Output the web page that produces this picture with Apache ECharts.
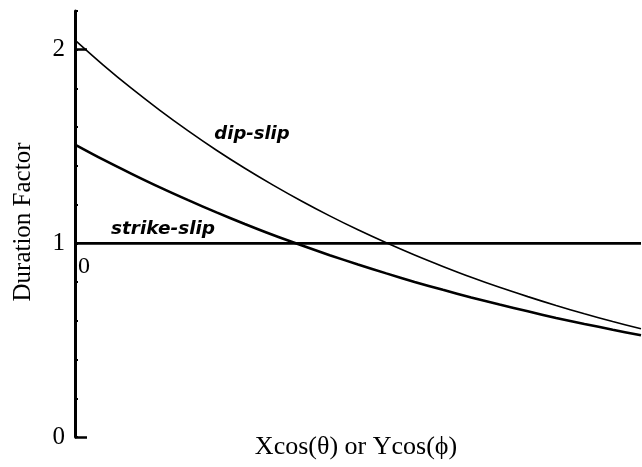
<!DOCTYPE html>
<html>
<head>
<meta charset="utf-8">
<script src="https://cdn.jsdelivr.net/npm/echarts@6/dist/echarts.min.js"></script>
<style>
  html, body { margin: 0; padding: 0; background: #fff; }
  #chart { width: 642px; height: 467px; }
</style>
</head>
<body>
<div id="chart"></div>
<script>
// Position along the fault, sampled every 0.05
const xPositions = [0, 0.05, 0.1, 0.15, 0.2, 0.25, 0.3, 0.35, 0.4, 0.45, 0.5,
                    0.55, 0.6, 0.65, 0.7, 0.75, 0.8, 0.85, 0.9, 0.95, 1.0];
// Duration factor, dip-slip rupture
const dipSlip = [2.050, 1.921, 1.800, 1.687, 1.581, 1.481, 1.388, 1.301, 1.219, 1.142, 1.070,
                 1.003, 0.940, 0.881, 0.825, 0.773, 0.725, 0.679, 0.636, 0.596, 0.559];
// Duration factor, second (heavier) curve
const heavyCurve = [1.510, 1.432, 1.359, 1.289, 1.223, 1.160, 1.100, 1.043, 0.990, 0.939, 0.891,
                    0.845, 0.801, 0.760, 0.721, 0.684, 0.649, 0.615, 0.584, 0.554, 0.525];
// Duration factor, strike-slip rupture (constant)
const strikeX = [0, 1];
const strikeSlip = [1, 1];
// Tick labels
const yTickLabels = [0, 1, 2];
const yLongTicks = [0, 2];
const xTickLabels = [0, 1];

const pairs = (xs, ys) => xs.map((x, i) => [x, ys[i]]);

const chart = echarts.init(document.getElementById('chart'), null, { renderer: 'canvas' });

const serif = '"Liberation Serif", "Times New Roman", serif';
const GRID_TOP = 11, GRID_BOTTOM = 30, H = 467;
const unit = (H - GRID_TOP - GRID_BOTTOM) / 2.2;

chart.setOption({
  animation: false,
  backgroundColor: '#fff',
  grid: { left: 75, right: 1, top: GRID_TOP, bottom: GRID_BOTTOM,
          containLabel: false, outerBoundsMode: 'none' },
  xAxis: {
    type: 'value', min: 0, max: 1,
    offset: -unit,
    axisLine: { show: false },
    axisTick: { show: false },
    splitLine: { show: false },
    axisLabel: {
      customValues: xTickLabels,
      align: 'left', padding: [0, 0, 0, 3], margin: 11,
      color: '#000', fontFamily: serif, fontSize: 24
    }
  },
  yAxis: [
    {
      type: 'value', min: 0, max: 2.2, interval: 0.2, position: 'left',
      axisLine: { show: true, lineStyle: { color: '#000', width: 3 } },
      axisTick: { show: true, inside: true, length: 3, lineStyle: { color: '#000', width: 2 } },
      splitLine: { show: false },
      axisLabel: {
        customValues: yTickLabels,
        margin: 10, color: '#000', fontFamily: serif, fontSize: 25
      }
    },
    {
      type: 'value', min: 0, max: 2.2, position: 'left',
      axisLine: { show: false },
      axisTick: { show: true, customValues: yLongTicks, inside: true, length: 12,
                  lineStyle: { color: '#000', width: 2.5 } },
      axisLabel: { show: false },
      splitLine: { show: false }
    }
  ],
  series: [
    {
      name: 'strike-slip', type: 'line', yAxisIndex: 0,
      data: pairs(strikeX, strikeSlip), showSymbol: false,
      lineStyle: { color: '#000', width: 2.6 }
    },
    {
      name: 'dip-slip', type: 'line', yAxisIndex: 0,
      data: pairs(xPositions, dipSlip), showSymbol: false, smooth: 0.3,
      lineStyle: { color: '#000', width: 1.6 }
    },
    {
      name: 'heavy', type: 'line', yAxisIndex: 0,
      data: pairs(xPositions, heavyCurve), showSymbol: false, smooth: 0.3,
      lineStyle: { color: '#000', width: 2.6 }
    }
  ],
  graphic: [
    {
      type: 'text', x: 23, y: 222, rotation: Math.PI / 2,
      style: { text: 'Duration Factor', font: '25px ' + serif, fill: '#000',
               align: 'center', verticalAlign: 'middle' }
    },
    {
      type: 'text', x: 356, y: 447,
      style: { text: 'Xcos(θ) or Ycos(ϕ)', font: '26px ' + serif, fill: '#000',
               align: 'center', verticalAlign: 'middle' }
    },
    {
      type: 'text', x: 252, y: 134,
      style: { text: 'dip-slip', font: 'italic bold 18px "DejaVu Sans", sans-serif', fill: '#000',
               align: 'center', verticalAlign: 'middle' }
    },
    {
      type: 'text', x: 163, y: 229,
      style: { text: 'strike-slip', font: 'italic bold 18.5px "DejaVu Sans", sans-serif', fill: '#000',
               align: 'center', verticalAlign: 'middle' }
    }
  ]
});
</script>
</body>
</html>
